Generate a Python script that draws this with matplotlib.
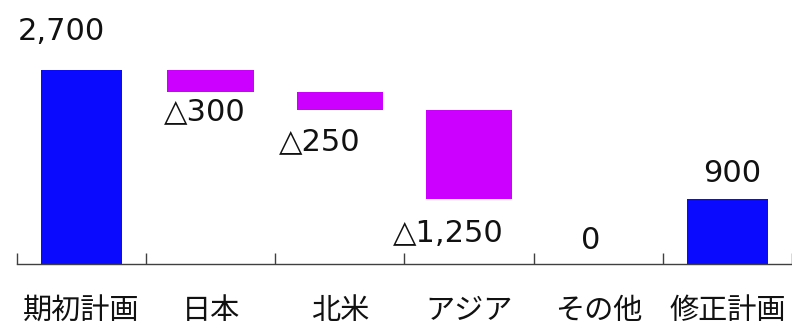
import matplotlib
matplotlib.use("Agg")
import matplotlib.pyplot as plt
from matplotlib.transforms import blended_transform_factory, offset_copy
import numpy as np

categories = ["期初計画", "日本", "北米", "アジア", "その他", "修正計画"]
values = [2700, -300, -250, -1250, 0, 900]
kinds = ["total", "delta", "delta", "delta", "delta", "total"]
value_labels = ["2,700", "△300", "△250", "△1,250", "0", "900"]

blue = "#0A0AFF"
magenta = "#CC00FF"

plt.rcParams['font.family'] = ['DejaVu Sans', 'Noto Sans CJK JP']

fig = plt.figure(figsize=(7.92, 3.25), dpi=100)
ax = fig.add_axes([17/792, 61/325, 1 - 17/792, 264/325])

# waterfall geometry
bottoms, heights, colors, widths = [], [], [], []
running = 0
for v, k in zip(values, kinds):
    if k == "total":
        bottoms.append(0); heights.append(v); colors.append(blue); widths.append(0.63)
        running = v
    else:
        new = running + v
        bottoms.append(min(running, new)); heights.append(abs(v)); colors.append(magenta); widths.append(0.67)
        running = new

x = np.arange(len(categories))
ax.bar(x, heights, bottom=bottoms, color=colors, width=widths, linewidth=0)

# value labels: baseline offsets in pixels (dx, dy) from the bar end
label_offsets = [(-20, 30), (-6, -29), (-20, -41), (-21, -43), (-8, -50), (5, 17)]
running = 0
for i, (v, k) in enumerate(zip(values, kinds)):
    if k == "total":
        running = v
        anchor = v
    else:
        running = running + v
        anchor = running
    ax.annotate(value_labels[i], xy=(i, anchor), xytext=label_offsets[i],
                textcoords="offset pixels", ha="center", va="baseline",
                fontsize=22, color="#111111")

ax.set_xlim(-0.5, -0.5 + 775/130.2)
ax.set_ylim(0, 264/0.07185)

for s in ["top", "right", "left"]:
    ax.spines[s].set_visible(False)
ax.spines["bottom"].set_color("#404040")
ax.spines["bottom"].set_linewidth(1.0)
ax.set_yticks([])

ax.set_xticks(np.arange(-0.5, len(categories) + 0.5, 1.0))
ax.set_xticklabels([])
ax.tick_params(axis="x", which="major", direction="in", length=8, width=1.0, color="#404040")

# category labels placed by baseline below the axis
trans = offset_copy(blended_transform_factory(ax.transData, ax.transAxes),
                    fig=fig, x=0, y=-55, units="dots")
for i, c in enumerate(categories):
    ax.text(i, 0, c, transform=trans, ha="center", va="baseline",
            fontsize=21, family=['Noto Sans CJK JP'], color="#111111")

fig.savefig("out.png", dpi=100)
